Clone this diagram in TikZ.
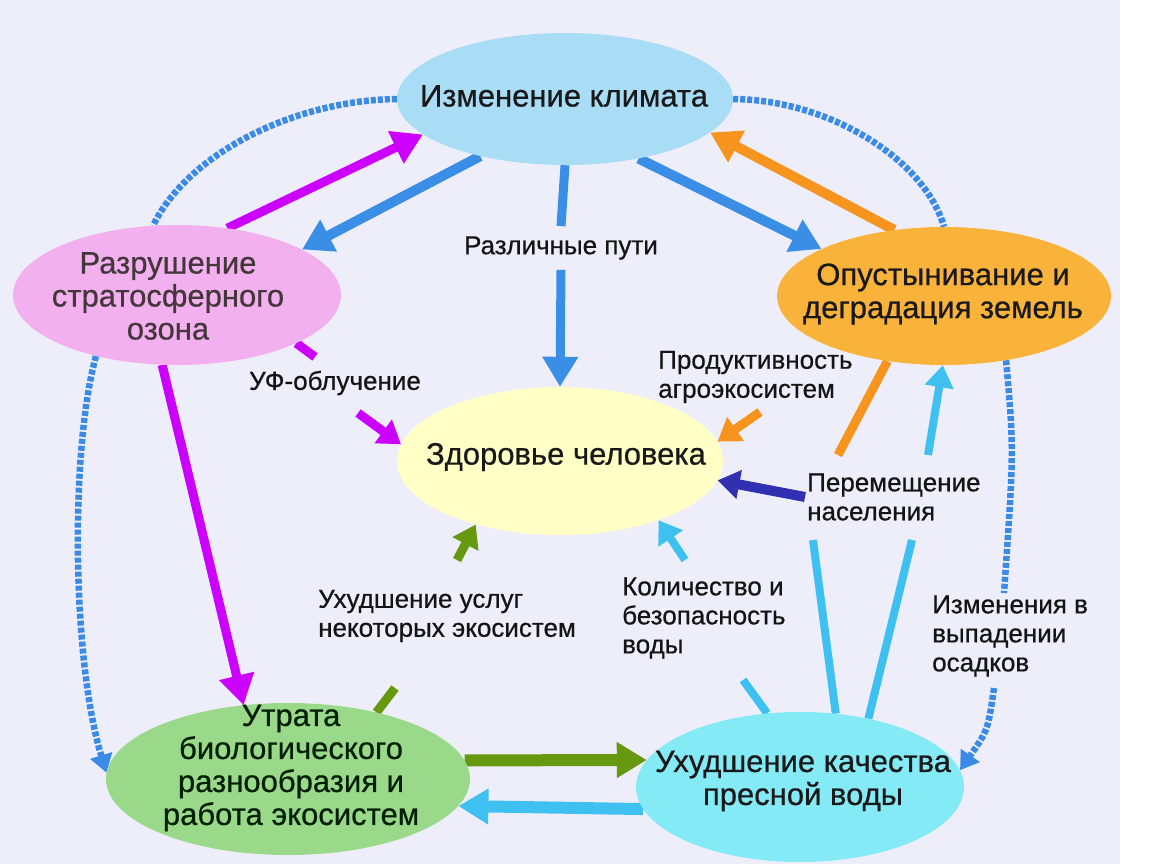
\documentclass[tikz,border=0pt]{standalone}
\usepackage{fontspec}
\setmainfont{Liberation Sans}
\newfontfamily\heavyfont[FakeBold=0.6]{Liberation Sans}
\usetikzlibrary{arrows.meta,shapes.geometric}
\pgfdeclarelayer{back}
\pgfdeclarelayer{conn}
\pgfsetlayers{back,conn,main}
\definecolor{bgc}{HTML}{EEEEFA}
\definecolor{climf}{HTML}{A9DCF5}
\definecolor{ozonef}{HTML}{F2B0EE}
\definecolor{desf}{HTML}{F9B33A}
\definecolor{healf}{HTML}{FFFFC6}
\definecolor{biof}{HTML}{9AD98A}
\definecolor{frf}{HTML}{84EAF6}
\definecolor{cmag}{HTML}{CC00FF}
\definecolor{cblue}{HTML}{3B8EE6}
\definecolor{cor}{HTML}{F7941D}
\definecolor{ccyan}{HTML}{3EC0F0}
\definecolor{cgreen}{HTML}{669910}
\definecolor{cdark}{HTML}{3030B0}
\definecolor{cdot}{HTML}{3A8AE8}
\begin{document}
\begin{tikzpicture}[x=1pt,y=-1pt,
  ell/.style={ellipse,draw=none,inner sep=0pt},
  ntext/.style={font=\heavyfont\fontsize{31}{33}\selectfont,align=center,inner sep=0pt},
  lab/.style={font=\heavyfont\fontsize{26}{29}\selectfont,align=left,inner sep=2pt,text=black!92},
  fat/.style={line width=#1,-{Triangle[length=30pt,width=34pt]}},
  short/.style={line width=#1,-{Triangle[length=22pt,width=28pt]}},
  bar/.style={line width=#1},
  dotline/.style={line width=6.5pt,dash pattern=on 5pt off 2pt,cdot},
  dottip/.style={-{Triangle[length=18pt,width=22pt]}}
]
\begin{pgfonlayer}{back}
\fill[white] (0,0) rectangle (1150,864);
\fill[bgc] (0,0) rectangle (1120,864);
\end{pgfonlayer}
\useasboundingbox (0,0) rectangle (1150,864);

% nodes
\node[ell,fill=climf,minimum width=336pt,minimum height=132pt] (clim) at (565,99) {};
\node[ntext,text=black!90] (climt) at (564,96) {Изменение климата};
\node[ell,fill=ozonef,minimum width=328pt,minimum height=140pt] (ozone) at (177,295) {};
\node[ntext,text=black!85!magenta] (ozonet) at (168,296) {Разрушение\\стратосферного\\озона};
\node[ell,fill=desf,minimum width=334pt,minimum height=138pt] (desert) at (944,296) {};
\node[ntext,text=black!90] (desertt) at (943,294) {Опустынивание и\\деградация земель};
\node[ell,fill=healf,minimum width=326pt,minimum height=148pt] (health) at (560,461) {};
\node[ntext,text=black!90] (healtht) at (566,457) {Здоровье человека};
\node[ell,fill=biof,minimum width=364pt,minimum height=152pt] (biod) at (288,779) {};
\node[ntext,text=black!80!green!60!black] (biodt) at (291,768) {Утрата\\биологического\\разнообразия и\\работа экосистем};
\node[ell,fill=frf,minimum width=328pt,minimum height=150pt] (fresh) at (800,787) {};
\node[ntext,text=black!90] (fresht) at (803,781) {Ухудшение качества\\пресной воды};

% labels
\node[lab,inner ysep=10pt] (rp) at (561,248) {Различные пути};
\node[lab] (uv) at (335,383) {УФ-облучение};
\node[lab,anchor=west] (prod) at (656,377) {Продуктивность\\агроэкосистем};
\node[lab,anchor=west] (pop) at (805,497) {Перемещение\\населения};
\node[lab,anchor=west] (serv) at (316,616) {Ухудшение услуг\\некоторых экосистем};
\node[lab,anchor=west] (wat) at (620,618) {Количество и\\безопасность\\воды};
\node[lab,anchor=west] (rain) at (930,636) {Изменения в\\выпадении\\осадков};

% free ends of broken connectors
\coordinate (uv1) at (315,357);
\coordinate (uv2) at (358,413);
\coordinate (pr1) at (838,455);
\coordinate (pr2) at (760,412);
\coordinate (cy1) at (912,540);
\coordinate (cy2) at (928,455);
\coordinate (cy3) at (813,540);
\coordinate (w1) at (743,680);
\coordinate (w2) at (685,560);
\coordinate (g1) at (395,688);
\coordinate (g2) at (457,560);
\coordinate (rn1) at (1004,593);
\coordinate (rn2) at (994,688);

\begin{pgfonlayer}{conn}
% climate <-> ozone
\draw[fat=9pt,cmag] (ozone.53) -- (clim.194);
\draw[fat=10pt,cblue] (clim.214) -- (ozone.20);
% climate -> health
\draw[bar=9pt,cblue] (clim.south) -- (rp.north);
\draw[fat=9pt,cblue] (rp.south) -- (health.north);
% climate <-> desertification
\draw[fat=10pt,cblue] (clim.-39) -- (desert.159);
\draw[fat=10pt,cor] (desert.127) -- (clim.-13);
% dotted links
\draw[dotline] (clim.west) .. controls (300,100) and (190,150) .. (ozone.109);
\draw[dotline] (clim.east) .. controls (830,100) and (925,160) .. (desert.north);
\draw[dotline,dottip] (ozone.-143) .. controls (70,450) and (72,660) .. (biod.178);
\draw[dotline] (desert.-46) .. controls (1014,450) .. (rn1);
\draw[dotline,dottip] (rn2) .. controls (988,730) .. (fresh.6);
% ozone -> biodiversity, ozone -> health
\draw[fat=9pt,cmag] (ozone.-102) -- (biod.121);
\draw[bar=9pt,cmag] (ozone.-22) -- (uv1);
\draw[short=9pt,cmag] (uv2) -- (health.174);
% desertification -> health
\draw[bar=9pt,cor] (desert.-131) -- (pr1);
\draw[short=9pt,cor] (pr2) -- (health.7);
% freshwater -> desertification, population
\draw[bar=8pt,ccyan] (fresh.45) -- (cy1);
\draw[short=8pt,ccyan] (cy2) -- (desert.-91);
\draw[bar=8pt,ccyan] (fresh.64) -- (cy3);
\draw[short=10pt,cdark] (pop.west) -- (health.-7.5);
% freshwater -> health
\draw[bar=8pt,ccyan] (fresh.114) -- (w1);
\draw[short=8pt,ccyan] (w2) -- (health.-31);
% biodiversity -> health
\draw[bar=9pt,cgreen] (biod.37) -- (g1);
\draw[short=9pt,cgreen] (g2) -- (health.217);
% biodiversity <-> freshwater
\draw[fat=12pt,cgreen] (biod.6) -- (fresh.170);
\draw[fat=12pt,ccyan] (fresh.188) -- (biod.-9);
\end{pgfonlayer}
\end{tikzpicture}
\end{document}
